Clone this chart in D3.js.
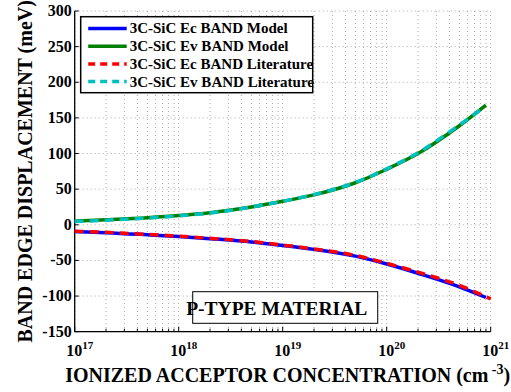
<!DOCTYPE html>
<html>
<head>
    <meta charset="utf-8">
    <script src="https://d3js.org/d3.v7.min.js"></script>
</head>
<body style="margin:0">
<script>
    // acceptor concentrations (cm^-3)
    var conc = [1e17, 2e17, 5e17, 1e18, 2e18, 5e18, 1e19, 2e19, 5e19, 1e20, 2e20, 5e20, 9e20];
    var concLitEc = [1e17, 2e17, 5e17, 1e18, 2e18, 5e18, 1e19, 2e19, 5e19, 1e20, 2e20, 5e20, 1e21];
    var concLitEv = [1e17, 2e17, 5e17, 1e18, 2e18, 5e18, 1e19, 2e19, 5e19, 1e20, 2e20, 5e20, 8.5e20];

    // band edge displacement (meV)
    var ecModel = [-9.5, -11, -14, -16.5, -19.5, -24, -29, -34.5, -44, -55, -68, -87, -102];
    var evModel = [5, 7, 10, 13, 17, 25, 33, 42, 59, 78, 100, 139, 168];
    var ecLit = [-9, -10.5, -13.5, -16, -19, -23.5, -28.5, -34, -43, -54, -66.5, -85, -104];
    var evLit = [4.5, 6.5, 9.5, 12.5, 16.5, 25, 33, 42.5, 59.5, 78.5, 101, 140, 164];

    var yTicks = [-150, -100, -50, 0, 50, 100, 150, 200, 250, 300];
    var xTicks = [17, 18, 19, 20, 21];

    var legendNames = ["3C-SiC Ec BAND Model", "3C-SiC Ev BAND Model",
        "3C-SiC Ec BAND Literature", "3C-SiC Ev BAND Literature"];

    // serif bold text helper
    function serif(sel, size) {
        return sel.attr("font-family", "'Liberation Serif'")
            .style("font-family", "'Liberation Serif', 'Times New Roman', Tinos, serif", "important")
            .style("font-weight", "bold", "important")
            .attr("font-size", size);
    }

    var width = 511, height = 392;
    var margin = {left: 74.7, right: 20.3, top: 11, bottom: 60.3};
    var pw = width - margin.left - margin.right;
    var ph = height - margin.top - margin.bottom;

    var svg = d3.select("body").append("svg")
        .attr("width", width).attr("height", height)
        .style("font-family", "'Liberation Serif', 'Times New Roman', serif", "important");
    var g = svg.append("g").attr("transform", "translate(" + margin.left + "," + margin.top + ")");

    var x = d3.scaleLog().domain([1e17, 1e21]).range([0, pw]);
    var y = d3.scaleLinear().domain([-150, 300]).range([ph, 0]);

    // grid: y majors, x majors + minors
    var minors = [];
    for (var e = 17; e < 21; e++) {
        for (var k = 1; k < 10; k++) minors.push(k * Math.pow(10, e));
    }
    minors.push(1e21);

    g.selectAll(".vgrid").data(minors).enter().append("line")
        .attr("x1", d => x(d)).attr("x2", d => x(d))
        .attr("y1", 0).attr("y2", ph)
        .attr("stroke", "#aaa").attr("stroke-width", 1)
        .attr("stroke-dasharray", "1,3");
    g.selectAll(".hgrid").data(yTicks).enter().append("line")
        .attr("x1", 0).attr("x2", pw)
        .attr("y1", d => y(d)).attr("y2", d => y(d))
        .attr("stroke", "#aaa").attr("stroke-width", 1)
        .attr("stroke-dasharray", "1,3");

    // axes lines
    g.append("line").attr("x1", 0).attr("x2", 0).attr("y1", 0).attr("y2", ph)
        .attr("stroke", "#000").attr("stroke-width", 1.3);
    g.append("line").attr("x1", 0).attr("x2", pw).attr("y1", ph).attr("y2", ph)
        .attr("stroke", "#000").attr("stroke-width", 1.3);

    // y ticks (inward)
    g.selectAll(".ytick").data(yTicks).enter().append("line")
        .attr("x1", 0).attr("x2", 4)
        .attr("y1", d => y(d)).attr("y2", d => y(d))
        .attr("stroke", "#000");
    serif(g.selectAll(".ylab").data(yTicks).enter().append("text"), 16)
        .attr("x", -3).attr("y", d => y(d) + 5)
        .attr("text-anchor", "end")
        .text(d => d);

    // x ticks (inward), minors shorter
    g.selectAll(".xtick").data(minors).enter().append("line")
        .attr("x1", d => x(d)).attr("x2", d => x(d))
        .attr("y1", ph).attr("y2", d => (Math.log10(d) % 1 === 0) ? ph - 5 : ph - 3)
        .attr("stroke", "#000");
    var xl = serif(g.selectAll(".xlab").data(xTicks).enter().append("text"), 16)
        .attr("x", d => x(Math.pow(10, d)) + 5).attr("y", ph + 24)
        .attr("text-anchor", "middle");
    xl.append("tspan").text("10");
    xl.append("tspan").attr("dy", -7).attr("font-size", 11).text(d => d);

    // axis titles
    var xt = serif(svg.append("text"), 20)
        .attr("x", margin.left + pw / 2 + 5).attr("y", 381.5)
        .attr("text-anchor", "middle");
    xt.append("tspan").text("IONIZED ACCEPTOR CONCENTRATION (cm");
    xt.append("tspan").attr("dy", -8).attr("font-size", 14).text(" -3");
    xt.append("tspan").attr("dy", 8).text(")");

    serif(svg.append("text"), 20)
        .attr("transform", "translate(32," + (margin.top + ph / 2) + ") rotate(-90)")
        .attr("text-anchor", "middle")
        .text("BAND EDGE DISPLACEMENT (meV)");

    // curves
    var line = d3.line().x(d => x(d[0])).y(d => y(d[1])).curve(d3.curveMonotoneX);
    var series = [
        {n: conc, v: ecModel, color: "#0000ff", dash: null},
        {n: conc, v: evModel, color: "#008000", dash: null},
        {n: concLitEc, v: ecLit, color: "#ff0000", dash: "9,6"},
        {n: concLitEv, v: evLit, color: "#00bfbf", dash: "9,6"}
    ];
    series.forEach(function(s) {
        g.append("path")
            .datum(d3.zip(s.n, s.v))
            .attr("d", line)
            .attr("fill", "none")
            .attr("stroke", s.color)
            .attr("stroke-width", 3.5)
            .attr("stroke-dasharray", s.dash);
    });

    // legend
    var lg = svg.append("g").attr("transform", "translate(80.7,16.7)");
    lg.append("rect").attr("width", 232).attr("height", 76)
        .attr("fill", "#fff").attr("stroke", "#000").attr("stroke-width", 1.5);
    series.forEach(function(s, i) {
        var yy = 11.8 + i * 17.7;
        lg.append("line").attr("x1", 7.5).attr("x2", 46).attr("y1", yy).attr("y2", yy)
            .attr("stroke", s.color).attr("stroke-width", 3.5)
            .attr("stroke-dasharray", s.dash ? "7,5" : null);
        serif(lg.append("text"), 15).attr("x", 49).attr("y", yy + 5)
            .text(legendNames[i]);
    });

    // annotation box
    var ab = svg.append("g").attr("transform", "translate(192.7,291.7)");
    ab.append("rect").attr("width", 185).attr("height", 31.6)
        .attr("fill", "#fff").attr("stroke", "#000").attr("stroke-width", 1);
    serif(ab.append("text"), 19.5).attr("x", 84).attr("y", 23)
        .attr("text-anchor", "middle")
        .text("P-TYPE MATERIAL");
</script>
</body>
</html>
